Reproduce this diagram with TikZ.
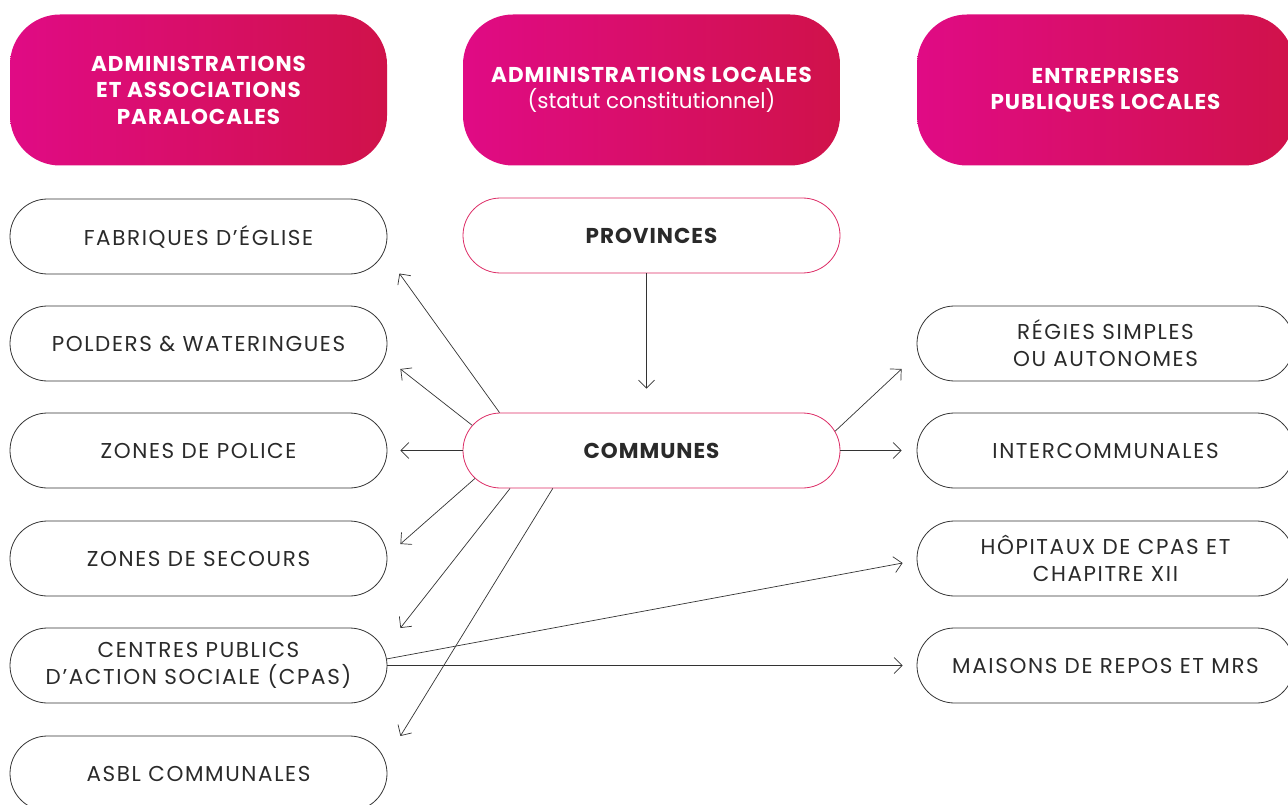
\documentclass[tikz,border=0pt]{standalone}
\usepackage{fontspec}
\setmainfont{Poppins}[LetterSpace=4.5]
\newfontfamily\bodyfont{Poppins}[LetterSpace=7.5]
\newfontfamily\subfont{Poppins}
\usetikzlibrary{shapes.misc,arrows.meta,calc}
\definecolor{mag}{HTML}{E00B85}
\definecolor{crim}{HTML}{D0124A}
\definecolor{pinkline}{HTML}{DC2A64}
\definecolor{ink}{HTML}{2A2A2A}
\definecolor{arrowc}{HTML}{333333}
\begin{document}
\begin{tikzpicture}[x=1pt,y=-1pt,
 header/.style={rectangle, rounded corners=50pt, minimum width=377pt, minimum height=151pt,
   left color=mag, right color=crim, text=white, align=center, inner sep=0pt,
   font=\fontsize{21.5}{26.5}\selectfont\bfseries},
 item/.style={rounded rectangle, draw=arrowc, line width=0.8pt, minimum width=377pt,
   minimum height=75pt, text=ink, align=center, inner sep=0pt,
   font=\bodyfont\fontsize{21.5}{27}\selectfont},
 core/.style={item, draw=pinkline, font=\rmfamily\fontsize{21.5}{27}\selectfont\bfseries},
 arr/.style={draw=arrowc, line width=0.7pt, -{Straight Barb[length=8pt,width=16pt]}}
]
\useasboundingbox (0,0) rectangle (1288,805);

% headers
\node[header] (h1) at (198.5,90) {ADMINISTRATIONS\\ET ASSOCIATIONS\\PARALOCALES};
\node[header] (h2) at (651.5,90) {ADMINISTRATIONS LOCALES\\{\subfont\mdseries (statut constitutionnel)}};
\node[header] (h3) at (1105.5,90) {ENTREPRISES\\PUBLIQUES LOCALES};

% left column
\node[item] (fab) at (198.5,236.5) {FABRIQUES D’ÉGLISE};
\node[item] (pol) at (198.5,343.5) {POLDERS \& WATERINGUES};
\node[item] (zp) at (198.5,450.5) {ZONES DE POLICE};
\node[item] (zs) at (198.5,558.5) {ZONES DE SECOURS};
\node[item] (cpas) at (198.5,665.5) {CENTRES PUBLICS\\D’ACTION SOCIALE (CPAS)};
\node[item] (asbl) at (198.5,773.5) {ASBL COMMUNALES};

% middle column
\node[core] (prov) at (651.5,235.5) {PROVINCES};
\node[core] (com) at (651.5,450.5) {COMMUNES};

% right column
\node[item] (reg) at (1105.5,343.5) {RÉGIES SIMPLES\\OU AUTONOMES};
\node[item] (inter) at (1105.5,450.5) {INTERCOMMUNALES};
\node[item] (hop) at (1105.5,558.5) {HÔPITAUX DE CPAS ET\\CHAPITRE XII};
\node[item] (mais) at (1105.5,665.5) {MAISONS DE REPOS ET MRS};

% arrows
\draw[arr] ($(prov.south)+(-5,0)$) -- ($(com.north)+(-5,-24)$);
\draw[arr] (com.166.6) -- ($(fab.east)+(12,37)$);
\draw[arr] (com.172.7) -- ($(pol.east)+(13,25.5)$);
\draw[arr] (com.west) -- ($(zp.east)+(13,0)$);
\draw[arr] (com.189.9) -- ($(zs.east)+(13,-14.5)$);
\draw[arr] (com.195.75) -- ($(cpas.east)+(13,-37.5)$);
\draw[arr] (com.201.75) -- ($(asbl.east)+(13,-37.5)$);
\draw[arr] (com.6.3) -- ($(reg.west)+(-15,25.5)$);
\draw[arr] (com.east) -- ($(inter.west)+(-15,0)$);
\draw[arr] (cpas.2.8) -- ($(hop.west)+(-14,4.5)$);
\draw[arr] (cpas.east) -- ($(mais.west)+(-14,0)$);
\end{tikzpicture}
\end{document}
